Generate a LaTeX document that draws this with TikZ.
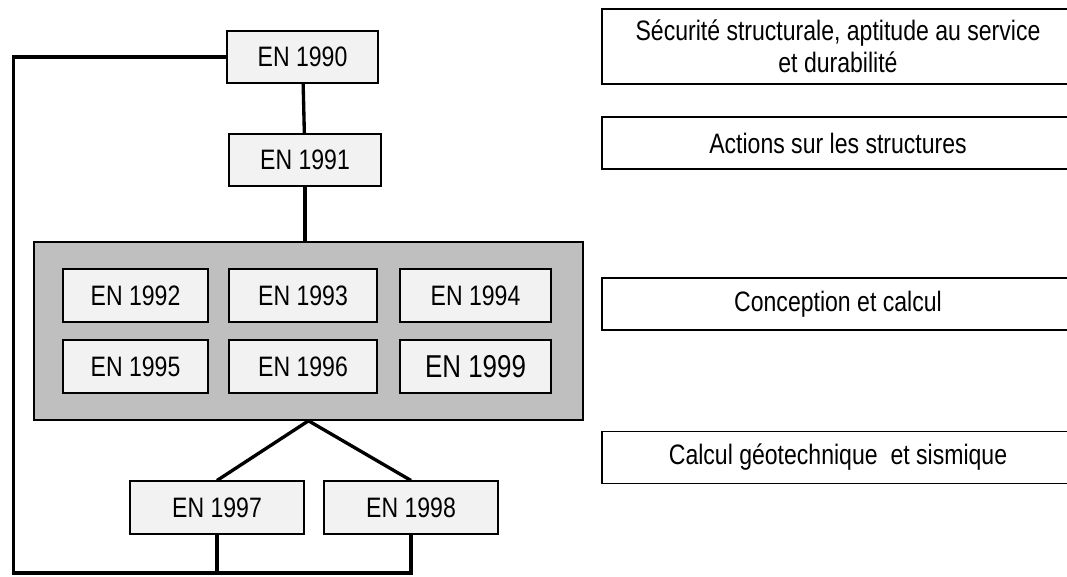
\documentclass[tikz,border=0pt]{standalone}
\usepackage{fontspec}
\setmainfont{Liberation Sans}[FakeStretch=0.82]
\tikzset{
  enbox/.style={draw,line width=0.9pt,fill=gray!10,minimum width=2.96cm,minimum height=1.05cm,inner sep=0pt},
  descbox/.style={draw,line width=0.9pt,minimum width=9.44cm,minimum height=1.04cm,align=center,inner sep=0pt},
  link/.style={line width=1.9pt}
}
\begin{document}
\begin{tikzpicture}[x=0.02cm,y=-0.02cm,font=\fontsize{16}{18.5}\selectfont]
\useasboundingbox (0,0) rectangle (1067,576);
\clip (0,0) rectangle (1067,576);
\node[enbox,minimum width=3.02cm] (n1990) at (302.5,57) {EN 1990};
\node[enbox,minimum width=3.04cm] (n1991) at (305,160) {EN 1991};
\node[draw,line width=0.9pt,fill=gray!50,minimum width=10.98cm,minimum height=3.56cm] (grp) at (308.5,331) {};
\node[enbox,minimum width=2.9cm] (n1992) at (135.5,295.5) {EN 1992};
\node[enbox] (n1993) at (303,295.5) {EN 1993};
\node[enbox,minimum width=3.02cm] (n1994) at (475.5,295.5) {EN 1994};
\node[enbox,minimum width=2.9cm] (n1995) at (135.5,366.5) {EN 1995};
\node[enbox] (n1996) at (303,366.5) {EN 1996};
\node[enbox,minimum width=3.02cm,font=\fontsize{18}{21}\selectfont] (n1999) at (475.5,366.5) {EN 1999};
\node[enbox,minimum width=3.48cm] (n1997) at (217,507.5) {EN 1997};
\node[enbox,minimum width=3.48cm] (n1998) at (411,507.5) {EN 1998};
\node[descbox,minimum height=1.5cm] (d1) at (838,46.5) {Sécurité structurale, aptitude au service\\ et durabilité};
\node[descbox] (d2) at (838,143) {Actions sur les structures};
\node[descbox] (d3) at (838,304) {Conception et calcul};
\node[descbox] (d4) at (838,457.5) {Calcul géotechnique\ \ et sismique};
\coordinate (bl) at (13.5,573);
\draw[link] (n1990) -- (n1991);
\draw[link] (n1991) -- (n1991 |- grp.north);
\draw[link] (grp.south) -- (n1997.north);
\draw[link] (grp.south) -- (n1998.north);
\draw[link] (n1990.west) -| (bl) -| (n1998.south);
\draw[link] (n1997.south) -- (n1997.south |- bl);
\end{tikzpicture}
\end{document}
